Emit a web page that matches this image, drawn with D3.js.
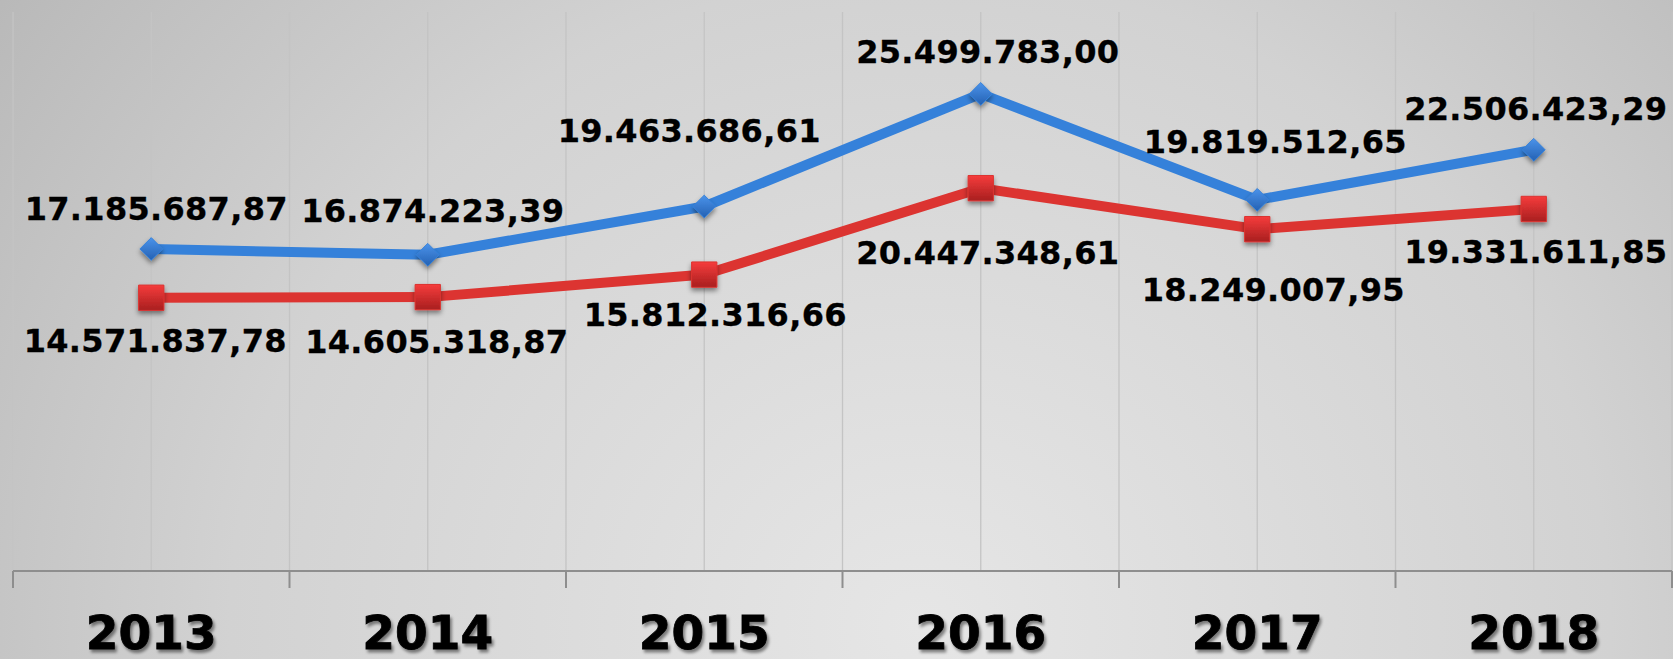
<!DOCTYPE html>
<html>
<head>
<meta charset="utf-8">
<script src="https://cdn.jsdelivr.net/npm/d3@7"></script>
<style>
  html, body { margin: 0; padding: 0; overflow: hidden; }
  svg { display: block; }
  .val { font-family: "DejaVu Sans", Verdana, sans-serif; font-weight: bold; font-size: 32px; letter-spacing: 0.3px; fill: #000; stroke: #000; stroke-width: 0.3px; }
  .year { font-family: "DejaVu Sans", Verdana, sans-serif; font-weight: bold; font-size: 47px; fill: #000; stroke: #000; stroke-width: 0.8px; }
</style>
</head>
<body>
<svg width="1673" height="659"></svg>
<script>
// data
var years = ["2013", "2014", "2015", "2016", "2017", "2018"];
var blueVals = [17185687.87, 16874223.39, 19463686.61, 25499783.00, 19819512.65, 22506423.29];
var redVals  = [14571837.78, 14605318.87, 15812316.66, 20447348.61, 18249007.95, 19331611.85];
var yMax = 30000000;

// label nudges (px) relative to the point, as the labels were dragged in the original
var blueNudge = [[5, -40], [5, -44], [-15, -76], [7, -42], [18, -58], [2, -41]];
var redNudge  = [[4, 43], [9, 44], [11, 40], [7, 64], [16, 60], [2, 43]];

var svg = d3.select("svg"),
    width = +svg.attr("width"),
    height = +svg.attr("height");

var plotLeft = 13, plotRight = 1672, plotTop = 12, plotBottom = 571;

var defs = svg.append("defs");

var bg = defs.append("radialGradient")
    .attr("id", "bg")
    .attr("cx", "0.55").attr("cy", "0.95")
    .attr("r", "0.75")
    .attr("gradientTransform", "translate(0.55,0.95) scale(1,2.4) translate(-0.55,-0.95)");
bg.append("stop").attr("offset", "0%").attr("stop-color", "#e6e6e6");
bg.append("stop").attr("offset", "55%").attr("stop-color", "#d2d2d2");
bg.append("stop").attr("offset", "100%").attr("stop-color", "#b2b2b2");

var gBlue = defs.append("linearGradient").attr("id", "gBlue")
    .attr("x1", 0).attr("y1", 0).attr("x2", 0).attr("y2", 1);
gBlue.append("stop").attr("offset", "0%").attr("stop-color", "#4b93ea");
gBlue.append("stop").attr("offset", "100%").attr("stop-color", "#2461b3");

var gRed = defs.append("linearGradient").attr("id", "gRed")
    .attr("x1", 0).attr("y1", 0).attr("x2", 0).attr("y2", 1);
gRed.append("stop").attr("offset", "0%").attr("stop-color", "#f63c3c");
gRed.append("stop").attr("offset", "100%").attr("stop-color", "#a81f1f");

var shadow = defs.append("filter").attr("id", "shadow")
    .attr("x", "-50%").attr("y", "-50%").attr("width", "200%").attr("height", "200%");
shadow.append("feDropShadow")
    .attr("dx", 0).attr("dy", 3).attr("stdDeviation", 2.5)
    .attr("flood-color", "#000").attr("flood-opacity", 0.45);

var tshadow = defs.append("filter").attr("id", "tshadow")
    .attr("x", "-20%").attr("y", "-20%").attr("width", "140%").attr("height", "140%");
tshadow.append("feDropShadow")
    .attr("dx", 2).attr("dy", 3).attr("stdDeviation", 1.5)
    .attr("flood-color", "#000").attr("flood-opacity", 0.45);

svg.append("rect")
    .attr("width", width).attr("height", height)
    .attr("fill", "url(#bg)");

var x = d3.scaleBand().domain(years).range([plotLeft, plotRight]).padding(0);
var y = d3.scaleLinear().domain([0, yMax]).range([569.5, 10]);
var cx = function(d) { return x(d) + x.bandwidth() / 2; };

// vertical grid: at band edges and centres
var gridX = [];
years.forEach(function(d) { gridX.push(x(d)); gridX.push(cx(d)); });
gridX.push(plotRight);

svg.append("g")
  .selectAll("line")
  .data(gridX)
  .enter().append("line")
    .attr("x1", function(d) { return d; })
    .attr("x2", function(d) { return d; })
    .attr("y1", plotTop)
    .attr("y2", plotBottom)
    .attr("stroke", "#c4c4c4")
    .attr("stroke-width", 1.3);

// category axis: labels from the band scale, ticks at the band edges
var axis = svg.append("g")
    .attr("transform", "translate(0," + plotBottom + ")")
    .call(d3.axisBottom(x).tickSize(0).tickPadding(0));
axis.select(".domain").remove();
axis.selectAll("text")
    .attr("class", "year")
    .attr("y", 78)
    .attr("dy", null)
    .attr("font-size", null)
    .attr("font-family", null)
    .attr("filter", "url(#tshadow)");

svg.append("line")
    .attr("x1", plotLeft).attr("x2", plotRight)
    .attr("y1", plotBottom).attr("y2", plotBottom)
    .attr("stroke", "#8e8e8e").attr("stroke-width", 2);

var edges = years.map(function(d) { return x(d); }).concat([plotRight]);
svg.append("g")
  .selectAll("line")
  .data(edges)
  .enter().append("line")
    .attr("x1", function(d) { return d; })
    .attr("x2", function(d) { return d; })
    .attr("y1", plotBottom)
    .attr("y2", plotBottom + 17)
    .attr("stroke", "#8e8e8e")
    .attr("stroke-width", 2);

function drawSeries(vals, color, fill, shape, nudge) {
  var pts = years.map(function(d, i) { return {year: d, v: vals[i], i: i}; });

  var line = d3.line()
      .x(function(d) { return cx(d.year); })
      .y(function(d) { return y(d.v); });

  svg.append("path")
      .datum(pts)
      .attr("d", line)
      .attr("fill", "none")
      .attr("stroke", color)
      .attr("stroke-width", 10)
      .attr("stroke-linejoin", "round");

  var sym = d3.symbol().type(shape).size(shape === d3.symbolDiamond2 ? 330 : 640);

  svg.append("g")
    .selectAll("path")
    .data(pts)
    .enter().append("path")
      .attr("d", sym)
      .attr("transform", function(d) {
        return "translate(" + cx(d.year) + "," + y(d.v) + ")";
      })
      .attr("fill", fill)
      .attr("stroke", color)
      .attr("stroke-width", 1)
      .attr("filter", "url(#shadow)");

  svg.append("g")
    .selectAll("text")
    .data(pts)
    .enter().append("text")
      .attr("class", "val")
      .attr("text-anchor", "middle")
      .attr("x", function(d) { return cx(d.year) + nudge[d.i][0]; })
      .attr("y", function(d) { return y(d.v) + nudge[d.i][1] + 11.5; })
      .text(function(d) {
        return d3.format(",.2f")(d.v).replace(/,/g, "#").replace(".", ",").replace(/#/g, ".");
      });
}

drawSeries(redVals, "#dc3431", "url(#gRed)", d3.symbolSquare, redNudge);
drawSeries(blueVals, "#3581da", "url(#gBlue)", d3.symbolDiamond2, blueNudge);
</script>
</body>
</html>
